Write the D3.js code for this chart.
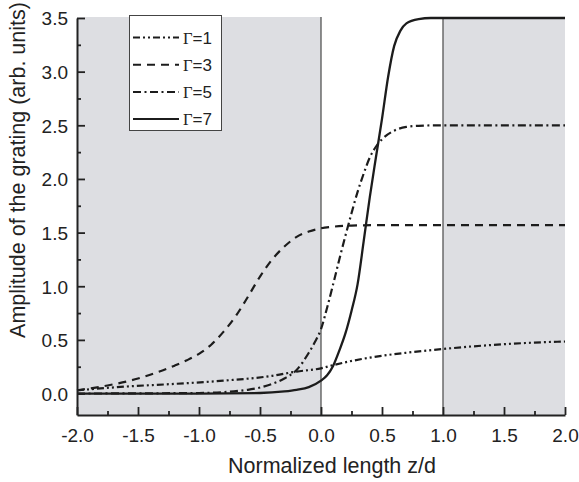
<!DOCTYPE html>
<html>
<head>
<meta charset="utf-8">
<script src="https://cdn.jsdelivr.net/npm/d3@7"></script>
<style>
  body { margin: 0; background: #fff; }
  text { font-family: Arial, "Liberation Sans", sans-serif; fill: #222; }
</style>
</head>
<body>
<svg id="chart" width="579" height="482"></svg>
<script>
// series: z/d and grating amplitude
var g1Z = [-2, -1.6, -1.2, -0.8, -0.4, -0.2, 0, 0.1, 0.4, 0.7, 1.0, 1.25, 1.5, 1.75, 2.0];
var g1A = [0.03, 0.065, 0.09, 0.12, 0.165, 0.205, 0.235, 0.265, 0.335, 0.38, 0.415, 0.44, 0.46, 0.475, 0.485];

var g3Z = [-2, -1.75, -1.5, -1.4, -1.3, -1.2, -1.1, -1.0, -0.9, -0.8, -0.7, -0.6, -0.5, -0.4, -0.3, -0.2, -0.1, 0, 0.1, 0.25, 0.5, 1.0, 2.0];
var g3A = [0.03, 0.075, 0.14, 0.175, 0.215, 0.26, 0.31, 0.37, 0.455, 0.575, 0.72, 0.9, 1.09, 1.25, 1.37, 1.46, 1.51, 1.54, 1.555, 1.565, 1.57, 1.57, 1.57];

var g5Z = [-2, -1.0, -0.6, -0.4, -0.3, -0.2, -0.1, -0.05, 0, 0.05, 0.1, 0.15, 0.2, 0.25, 0.3, 0.35, 0.4, 0.45, 0.5, 0.6, 0.7, 0.8, 1.0, 2.0];
var g5A = [0.0, 0.005, 0.035, 0.09, 0.14, 0.22, 0.38, 0.48, 0.6, 0.8, 1.02, 1.25, 1.47, 1.68, 1.88, 2.05, 2.2, 2.3, 2.37, 2.45, 2.485, 2.495, 2.5, 2.5];

var g7Z = [-2, -1.0, -0.5, -0.3, -0.2, -0.1, 0, 0.05, 0.1, 0.15, 0.2, 0.25, 0.3, 0.35, 0.4, 0.45, 0.5, 0.55, 0.6, 0.65, 0.7, 0.8, 0.9, 1.0, 2.0];
var g7A = [0.0, 0.0, 0.005, 0.02, 0.035, 0.06, 0.12, 0.17, 0.26, 0.4, 0.56, 0.77, 1.02, 1.42, 1.83, 2.2, 2.56, 2.95, 3.24, 3.38, 3.45, 3.49, 3.5, 3.5, 3.5];

var gammas = ["1", "3", "5", "7"];
var dashes = ["7,3,2,3,2,3", "8,6", "8,3.5,2,3.5", null];

var xTicks = [-2, -1.5, -1, -0.5, 0, 0.5, 1, 1.5, 2];
var xMinor = [-1.75, -1.25, -0.75, -0.25, 0.25, 0.75, 1.25, 1.75];
var yTicks = [0, 0.5, 1, 1.5, 2, 2.5, 3, 3.5];
var yMinor = [0.25, 0.75, 1.25, 1.75, 2.25, 2.75, 3.25];

var series = [
  { z: g1Z, a: g1A },
  { z: g3Z, a: g3A },
  { z: g5Z, a: g5A },
  { z: g7Z, a: g7A }
];

var svg = d3.select("#chart");

var x = d3.scaleLinear().domain([-2, 2]).range([77, 565]);
var y = d3.scaleLinear().domain([-0.2, 3.5]).range([415, 18]);

// shaded regions outside the grating
svg.selectAll("rect.shade")
  .data([[-2, 0], [1, 2]])
  .enter()
  .append("rect")
  .attr("class", "shade")
  .attr("x", function(d) { return x(d[0]); })
  .attr("y", y(3.5) - 1)
  .attr("width", function(d) { return x(d[1]) - x(d[0]); })
  .attr("height", y(-0.2) - y(3.5) + 1)
  .attr("fill", "#dddee2");

svg.selectAll("line.edge")
  .data([0, 1])
  .enter()
  .append("line")
  .attr("class", "edge")
  .attr("x1", function(d) { return x(d); })
  .attr("x2", function(d) { return x(d); })
  .attr("y1", y(3.5) - 1)
  .attr("y2", y(-0.2))
  .attr("stroke", "#555")
  .attr("stroke-width", 1.3);

var line = d3.line()
  .x(function(d) { return x(d[0]); })
  .y(function(d) { return y(d[1]); })
  .curve(d3.curveMonotoneX);

svg.selectAll("path.curve")
  .data(series)
  .enter()
  .append("path")
  .attr("class", "curve")
  .attr("d", function(s) { return line(d3.zip(s.z, s.a)); })
  .attr("fill", "none")
  .attr("stroke", "#1c1c1c")
  .attr("stroke-width", function(s, i) { return i == 3 ? 2.3 : 2.2; })
  .attr("stroke-dasharray", function(s, i) { return dashes[i]; });

// axes, ticks pointing inward
var fmt = function(d) { return d.toFixed(1); };

var xAxis = svg.append("g")
  .attr("transform", "translate(0," + y(-0.2) + ")")
  .call(d3.axisBottom(x).tickValues(xTicks).tickFormat(fmt).tickSizeInner(-8).tickSizeOuter(0).tickPadding(14));
svg.append("g")
  .attr("transform", "translate(0," + y(-0.2) + ")")
  .call(d3.axisBottom(x).tickValues(xMinor).tickFormat("").tickSizeInner(-4).tickSizeOuter(0))
  .select(".domain").remove();

var yAxis = svg.append("g")
  .attr("transform", "translate(" + x(-2) + ",0)")
  .call(d3.axisLeft(y).tickValues(yTicks).tickFormat(fmt).tickSizeInner(-8).tickSizeOuter(0).tickPadding(9));
svg.append("g")
  .attr("transform", "translate(" + x(-2) + ",0)")
  .call(d3.axisLeft(y).tickValues(yMinor).tickFormat("").tickSizeInner(-4).tickSizeOuter(0))
  .select(".domain").remove();

svg.selectAll(".domain").attr("stroke", "#222").attr("stroke-width", 2);
svg.selectAll(".tick line").attr("stroke", "#222").attr("stroke-width", 1.8);
svg.selectAll(".tick text")
  .attr("font-family", "Arial, 'Liberation Sans', sans-serif")
  .attr("font-size", 19)
  .attr("fill", "#222");
xAxis.selectAll(".tick text").attr("dy", "0.71em");
yAxis.selectAll(".tick text").attr("dy", "0.36em");

svg.append("text")
  .attr("x", 332)
  .attr("y", 473)
  .attr("text-anchor", "middle")
  .attr("font-size", 21.5)
  .text("Normalized length z/d");

svg.append("text")
  .attr("transform", "translate(25,170) rotate(-90)")
  .attr("text-anchor", "middle")
  .attr("font-size", 21.5)
  .text("Amplitude of the grating (arb. units)");

// legend
var legend = svg.append("g");
legend.append("rect")
  .attr("x", 129.5)
  .attr("y", 15.5)
  .attr("width", 92)
  .attr("height", 115)
  .attr("fill", "#fff")
  .attr("stroke", "#444")
  .attr("stroke-width", 1);

var rows = legend.selectAll("g.row")
  .data(gammas)
  .enter()
  .append("g")
  .attr("class", "row")
  .attr("transform", function(d, i) { return "translate(0," + (37.5 + i * 27.2) + ")"; });

rows.append("line")
  .attr("x1", 133)
  .attr("x2", 179)
  .attr("y1", 0)
  .attr("y2", 0)
  .attr("stroke", "#1c1c1c")
  .attr("stroke-width", 2)
  .attr("stroke-dasharray", function(d, i) { return dashes[i]; });

var lbl = rows.append("text")
  .attr("x", 183)
  .attr("y", 6)
  .attr("font-size", 17);
lbl.append("tspan")
  .attr("font-family", "'Liberation Serif', 'Times New Roman', serif")
  .attr("font-size", 16.5)
  .text("Γ");
lbl.append("tspan")
  .text(function(d) { return "=" + d; });
</script>
</body>
</html>
